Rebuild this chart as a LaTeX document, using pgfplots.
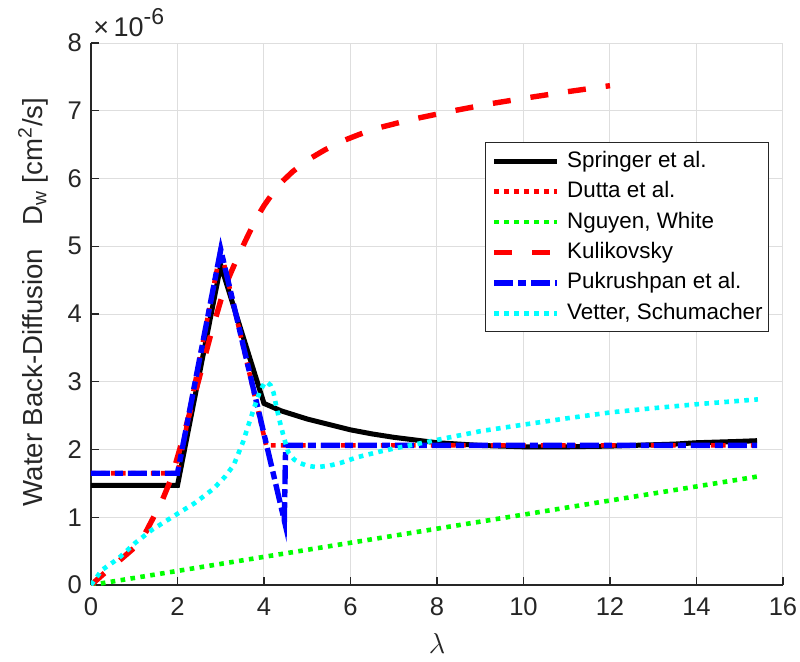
\documentclass[border=0pt]{standalone}
\usepackage{fontspec}
\setmainfont{Liberation Sans}
\usepackage{pgfplots}
\pgfplotsset{compat=1.18}
\definecolor{axgray}{RGB}{38,38,38}
\definecolor{gridgray}{RGB}{222,222,222}
\definecolor{mred}{RGB}{255,0,0}
\definecolor{mgreen}{RGB}{0,255,0}
\definecolor{mblue}{RGB}{0,0,255}
\definecolor{mcyan}{RGB}{0,255,255}
\begin{document}
\begin{tikzpicture}
\useasboundingbox (-45.5pt,-38pt) rectangle (354.5pt,292.5pt);
\begin{axis}[
  scale only axis, width=346pt, height=271pt,
  xmin=0, xmax=16, ymin=0, ymax=8,
  xtick={0,2,...,16}, ytick={0,1,...,8},
  axis x line*=bottom, axis y line*=left,
  axis line style={-, draw=axgray, line width=0.7pt},
  tick align=inside, major tick length=3.8pt,
  tick style={draw=axgray, line width=0.7pt},
  grid=major, major grid style={draw=gridgray, line width=0.5pt},
  clip mode=individual,
  /pgf/number format/assume math mode=true,
  ticklabel style={font=\fontsize{12.8}{14}\selectfont, text=axgray},
  xticklabel style={yshift=-3pt},
  yticklabel style={xshift=-1pt},
  xlabel={$\lambda$},
  xlabel style={at={(axis description cs:0.5,-0.108)}, anchor=center, font=\fontsize{14}{16}\selectfont, text=axgray},
  ylabel={Water Back-Diffusion\ \ \ D\textsubscript{w} [cm\textsuperscript{2}/s]},
  ylabel style={at={(axis description cs:-0.0838,0.522)}, anchor=center, font=\fontsize{13.8}{16}\selectfont, text=axgray},
  legend cell align=left,
  legend image code/.code={\draw (0pt,0pt) -- (31.5pt,0pt);},
  legend style={at={(0.980,0.817)}, anchor=north east, draw=axgray, line width=0.5pt, fill=white,
    font=\fontsize{11.2}{13}\selectfont, inner xsep=3pt, inner ysep=3pt, row sep=2.6pt,
    nodes={inner xsep=0pt, inner ysep=1pt, text height=8.3pt, text depth=2.3pt},
    /tikz/every odd column/.append style={column sep=3.5pt}},
]
\addplot[black, line width=2.5pt] coordinates {
(0,1.47)(2,1.47)(3,4.72)(4,2.68)(4.4,2.57)(5,2.45)(5.5,2.37)(6,2.29)(6.5,2.23)(7,2.18)(7.5,2.14)(8,2.10)(8.5,2.08)(9,2.06)(9.5,2.05)(10,2.04)(10.5,2.04)(11,2.04)(11.5,2.045)(12,2.05)(12.5,2.06)(13,2.07)(13.5,2.08)(14,2.10)(14.5,2.11)(15,2.12)(15.4,2.13)};
\addlegendentry{Springer et al.}
\addplot[mred, line width=2.3pt, dash pattern=on 2.3pt off 2.7pt] coordinates {
(0,1.65)(2,1.65)(3,4.95)(4.05,2.06)(15.4,2.06)};
\addlegendentry{Dutta et al.}
\addplot[mgreen, line width=2.3pt, dash pattern=on 2.3pt off 2.7pt] coordinates {
(0,0)(15.4,1.6)};
\addlegendentry{Nguyen, White}
\addplot[mred, line width=2.7pt, dash pattern=on 9pt off 10pt] coordinates {
(0,0)(0.32,0.18)(0.62,0.34)(1.02,0.56)(1.25,0.76)(1.43,0.98)(1.66,1.27)(1.86,1.58)(2.06,2.02)(2.3,2.58)(2.5,3.05)(2.75,3.65)(3.0,4.2)(3.14,4.47)(3.37,4.81)(3.6,5.12)(3.83,5.42)(4.0,5.6)(4.33,5.9)(4.66,6.1)(5.0,6.27)(5.4,6.42)(5.76,6.54)(6.2,6.65)(6.6,6.74)(7.4,6.87)(8.3,6.99)(9.2,7.1)(10.07,7.19)(11,7.28)(12,7.37)};
\addlegendentry{Kulikovsky}
\addplot[mblue, line width=2.7pt, dash pattern=on 9.5pt off 2.5pt on 4pt off 2.5pt] coordinates {
(0,1.65)(2,1.65)(3,4.95)(4.47,0.95)(4.5,2.06)(15.4,2.06)};
\addlegendentry{Pukrushpan et al.}
\addplot[mcyan, line width=2.3pt, dash pattern=on 2.3pt off 2.7pt] coordinates {
(0,0)(0.25,0.22)(0.63,0.39)(1.02,0.62)(1.4,0.81)(2.02,1.06)(2.4,1.21)(2.83,1.42)(3.1,1.6)(3.3,1.77)(3.52,2.12)(3.65,2.38)(3.79,2.65)(3.9,2.85)(4.0,2.97)(4.06,3.0)(4.15,2.95)(4.22,2.84)(4.29,2.62)(4.37,2.4)(4.45,2.2)(4.56,1.96)(4.7,1.85)(4.83,1.8)(5.0,1.76)(5.22,1.74)(5.5,1.76)(5.76,1.8)(6.18,1.89)(6.68,1.97)(7.05,2.02)(7.45,2.07)(8.22,2.17)(9,2.27)(10.03,2.37)(11,2.46)(12.04,2.55)(13,2.61)(14.04,2.67)(15.42,2.74)};
\addlegendentry{Vetter, Schumacher}
\node[anchor=base west, inner sep=0pt, font=\fontsize{13.5}{15}\selectfont, text=axgray, xshift=1pt, yshift=3.5pt]
  at (rel axis cs:0,1) {×\,10\raisebox{5.8pt}{\fontsize{11.5}{13}\selectfont -6}};
\end{axis}
\end{tikzpicture}
\end{document}
